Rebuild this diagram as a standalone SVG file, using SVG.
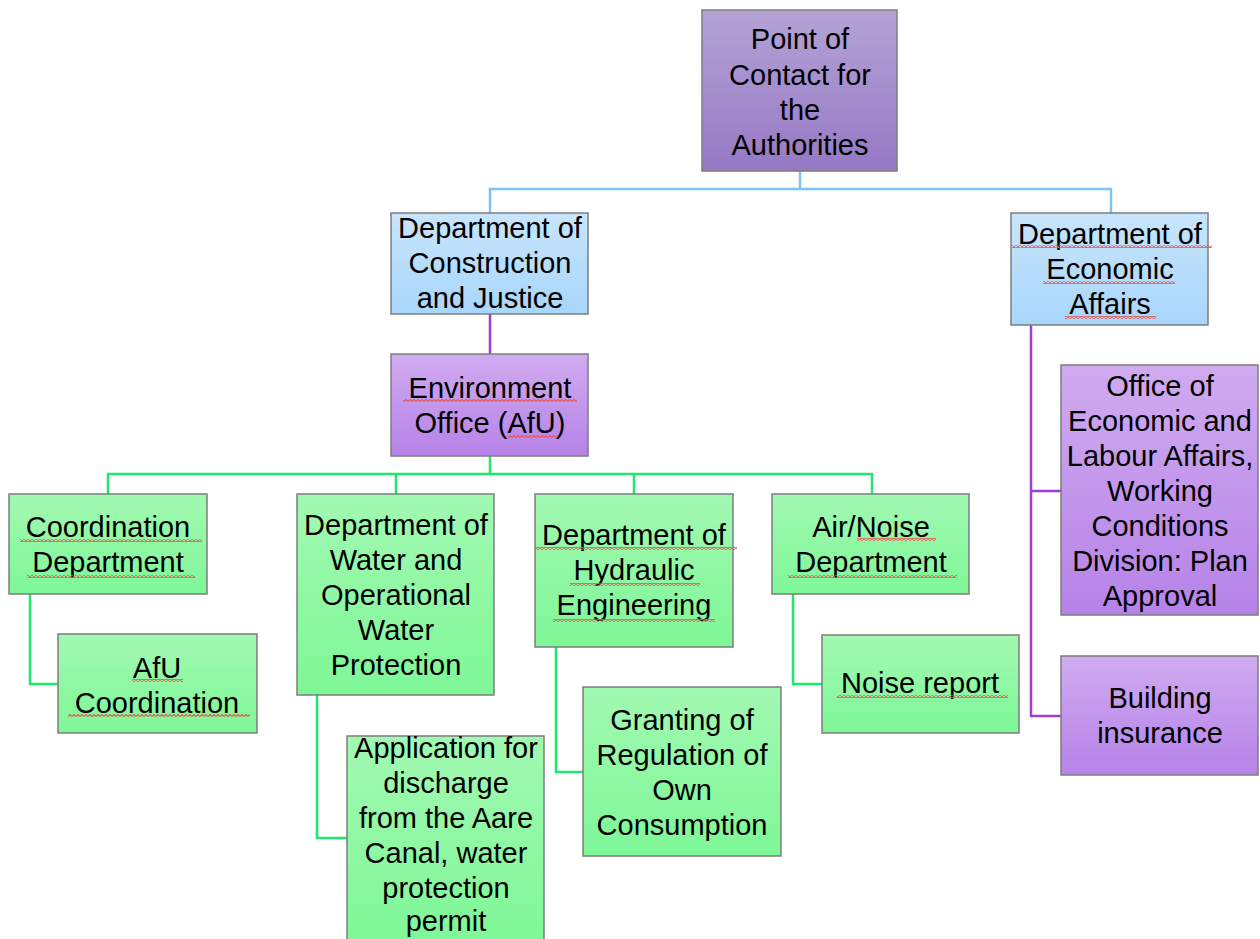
<svg xmlns="http://www.w3.org/2000/svg" width="1260" height="939" viewBox="0 0 1260 939">
<defs>
<linearGradient id="gTop" x1="0" y1="0" x2="0" y2="1"><stop offset="0" stop-color="#b4a3d6"/><stop offset="1" stop-color="#9678c4"/></linearGradient>
<linearGradient id="gBlue" x1="0" y1="0" x2="0" y2="1"><stop offset="0" stop-color="#c8e5fc"/><stop offset="1" stop-color="#a8d6fb"/></linearGradient>
<linearGradient id="gPurple" x1="0" y1="0" x2="0" y2="1"><stop offset="0" stop-color="#d0abf0"/><stop offset="1" stop-color="#b682e8"/></linearGradient>
<linearGradient id="gGreen" x1="0" y1="0" x2="0" y2="1"><stop offset="0" stop-color="#a2f9b2"/><stop offset="1" stop-color="#7ef797"/></linearGradient>
<pattern id="wave" patternUnits="userSpaceOnUse" width="4" height="3"><path d="M0 2.5 L2 0.5 L4 2.5" fill="none" stroke="#e8574f" stroke-width="1.2"/></pattern>
</defs>
<style>
.box{stroke:#7d7d7d;stroke-width:1.5}
.t{font-family:"Liberation Sans",Arial,sans-serif;font-size:29px;fill:#000;text-anchor:middle}
.cb{fill:none;stroke:#7cc3f6;stroke-width:2.5}
.cp{fill:none;stroke:#9c3fd8;stroke-width:2.5}
.cg{fill:none;stroke:#1ee86e;stroke-width:2.5}
.sq{fill:url(#wave)}
</style>
<rect width="1260" height="939" fill="#ffffff"/>
<g id="connectors">
<path class="cb" d="M800 171 V189 M490 213 V189 H1111 V213"/>
<path class="cp" d="M490 314 V354"/>
<path class="cg" d="M490 456 V474 M108 494 V474 H872 V494 M396 474 V494 M634 474 V494"/>
<path class="cg" d="M30 594 V684 H58"/>
<path class="cg" d="M317 695 V838 H347"/>
<path class="cg" d="M556 647 V772 H583"/>
<path class="cg" d="M793 594 V684 H822"/>
<path class="cp" d="M1031 325 V716 H1061 M1031 491 H1061"/>
</g>
<g id="n_poc">
<rect class="box" x="702" y="10" width="195" height="161" fill="url(#gTop)"/>
<text class="t" x="800" y="49">Point of</text>
<text class="t" x="800" y="85">Contact for</text>
<text class="t" x="800" y="120">the</text>
<text class="t" x="800" y="155">Authorities</text>
</g>
<g id="n_construction">
<rect class="box" x="391" y="213" width="197" height="101" fill="url(#gBlue)"/>
<text class="t" x="490" y="238">Department of</text>
<text class="t" x="490" y="273">Construction</text>
<text class="t" x="490" y="308">and Justice</text>
</g>
<g id="n_economic">
<rect class="box" x="1011" y="213" width="197" height="112" fill="url(#gBlue)"/>
<text class="t" x="1110" y="244">Department of</text>
<text class="t" x="1110" y="279">Economic</text>
<text class="t" x="1110" y="314">Affairs</text>
<rect class="sq" x="1012" y="245" width="200" height="3"/>
<rect class="sq" x="1043" y="281" width="132" height="3"/>
<rect class="sq" x="1065" y="316" width="91" height="3"/>
</g>
<g id="n_env">
<rect class="box" x="391" y="354" width="197" height="102" fill="url(#gPurple)"/>
<text class="t" x="490" y="398">Environment</text>
<text class="t" x="490" y="433">Office (AfU)</text>
<rect class="sq" x="403" y="399" width="174" height="3"/>
<rect class="sq" x="508" y="435" width="50" height="3"/>
</g>
<g id="n_coord">
<rect class="box" x="9" y="494" width="198" height="100" fill="url(#gGreen)"/>
<text class="t" x="108" y="537">Coordination</text>
<text class="t" x="108" y="572">Department</text>
<rect class="sq" x="20" y="539" width="182" height="3"/>
<rect class="sq" x="27" y="575" width="168" height="3"/>
</g>
<g id="n_afucoord">
<rect class="box" x="58" y="634" width="199" height="99" fill="url(#gGreen)"/>
<text class="t" x="157" y="678">AfU</text>
<text class="t" x="157" y="713">Coordination</text>
<rect class="sq" x="132" y="679" width="51" height="3"/>
<rect class="sq" x="68" y="714" width="182" height="3"/>
</g>
<g id="n_water">
<rect class="box" x="297" y="494" width="197" height="201" fill="url(#gGreen)"/>
<text class="t" x="396" y="535">Department of</text>
<text class="t" x="396" y="570">Water and</text>
<text class="t" x="396" y="605">Operational</text>
<text class="t" x="396" y="640">Water</text>
<text class="t" x="396" y="675">Protection</text>
</g>
<g id="n_hydraulic">
<rect class="box" x="535" y="494" width="198" height="153" fill="url(#gGreen)"/>
<text class="t" x="634" y="545">Department of</text>
<text class="t" x="634" y="580">Hydraulic</text>
<text class="t" x="634" y="615">Engineering</text>
<rect class="sq" x="535" y="547" width="202" height="3"/>
<rect class="sq" x="570" y="583" width="130" height="3"/>
<rect class="sq" x="553" y="619" width="162" height="3"/>
</g>
<g id="n_airnoise">
<rect class="box" x="772" y="494" width="197" height="100" fill="url(#gGreen)"/>
<text class="t" x="871" y="537">Air/Noise</text>
<text class="t" x="871" y="572">Department</text>
<rect class="sq" x="857" y="538" width="79" height="3"/>
<rect class="sq" x="788" y="575" width="169" height="3"/>
</g>
<g id="n_noisereport">
<rect class="box" x="822" y="635" width="197" height="98" fill="url(#gGreen)"/>
<text class="t" x="920" y="693">Noise report</text>
<rect class="sq" x="837" y="695" width="171" height="3"/>
</g>
<g id="n_application">
<rect class="box" x="347" y="736" width="197" height="210" fill="url(#gGreen)"/>
<text class="t" x="446" y="758">Application for</text>
<text class="t" x="446" y="793">discharge</text>
<text class="t" x="446" y="828">from the Aare</text>
<text class="t" x="446" y="863">Canal, water</text>
<text class="t" x="446" y="898">protection</text>
<text class="t" x="446" y="931">permit</text>
</g>
<g id="n_granting">
<rect class="box" x="583" y="687" width="198" height="169" fill="url(#gGreen)"/>
<text class="t" x="682" y="730">Granting of</text>
<text class="t" x="682" y="765">Regulation of</text>
<text class="t" x="682" y="800">Own</text>
<text class="t" x="682" y="835">Consumption</text>
</g>
<g id="n_office">
<rect class="box" x="1061" y="365" width="197" height="250" fill="url(#gPurple)"/>
<text class="t" x="1160" y="396">Office of</text>
<text class="t" x="1160" y="431">Economic and</text>
<text class="t" x="1160" y="466">Labour Affairs,</text>
<text class="t" x="1160" y="501">Working</text>
<text class="t" x="1160" y="536">Conditions</text>
<text class="t" x="1160" y="571">Division: Plan</text>
<text class="t" x="1160" y="606">Approval</text>
</g>
<g id="n_building">
<rect class="box" x="1061" y="656" width="197" height="119" fill="url(#gPurple)"/>
<text class="t" x="1160" y="708">Building</text>
<text class="t" x="1160" y="743">insurance</text>
</g>
</svg>
